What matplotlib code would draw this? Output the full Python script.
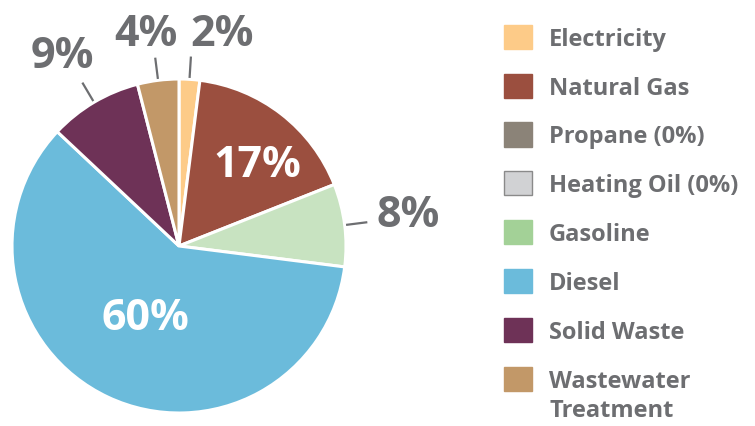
import matplotlib
matplotlib.use("Agg")
import matplotlib.pyplot as plt
import numpy as np
from matplotlib.patches import Patch

# Energy use by source (share of total, %)
categories = ["Electricity", "Natural Gas", "Propane (0%)", "Heating Oil (0%)",
              "Gasoline", "Diesel", "Solid Waste", "Wastewater\nTreatment"]
shares = [2, 17, 0, 0, 8, 60, 9, 4]
slice_colors = ["#fdcb88", "#9b4f3f", "#8b8378", "#d1d2d4",
                "#c8e3c1", "#6bbbdb", "#6e3257", "#c29868"]
legend_colors = ["#fdcb88", "#9b4f3f", "#8b8378", "#d1d2d4",
                 "#a3d197", "#6bbbdb", "#6e3257", "#c29868"]

gray = "#6d6e71"
plt.rcParams["font.family"] = ["Open Sans", "DejaVu Sans"]

fig = plt.figure(figsize=(7.55, 4.27), dpi=100)
ax = fig.add_axes([0, 0, 1, 1])

vals = [v for v in shares if v > 0]
cols = [c for v, c in zip(shares, slice_colors) if v > 0]
wedges, _ = ax.pie(vals, colors=cols, startangle=90, counterclock=False,
                   radius=1.0, wedgeprops=dict(edgecolor="white", linewidth=2.2))

# label placement: (text x, text y, inside?)
label_pos = {0: (0.26, 1.27, False), 1: (0.47, 0.49, True), 2: (1.37, 0.19, False),
             3: (-0.20, -0.43, True), 4: (-0.70, 1.14, False), 5: (-0.20, 1.27, False)}
for i, (w, v) in enumerate(zip(wedges, vals)):
    tx, ty, inside = label_pos[i]
    ax.text(tx, ty, f"{v}%", ha="center", va="center", fontsize=31,
            fontweight="bold", color="white" if inside else gray)
    if not inside:
        mid = np.deg2rad((w.theta1 + w.theta2) / 2)
        r0, r1 = 1.015, 1.13
        ax.plot([r0 * np.cos(mid), r1 * np.cos(mid)],
                [r0 * np.sin(mid), r1 * np.sin(mid)], color=gray, lw=1.6)

ax.set_aspect("auto")
ax.set_xlim(-179 / 167, 576 / 167)
ax.set_ylim(-180 / 167, 247 / 167)
ax.axis("off")

# legend: first line of each label beside the swatch, extra lines hang below
first_lines = [c.split("\n")[0] for c in categories]
extra_lines = [c.split("\n")[1:] for c in categories]
handles = [Patch(facecolor=c, edgecolor=("#8a8a8a" if c == "#d1d2d4" else c), lw=1)
           for c in legend_colors]
leg = fig.legend(handles, first_lines, loc="upper left", bbox_to_anchor=(0.655, 0.962),
                 frameon=False, fontsize=17, handlelength=1.19, handleheight=1.19,
                 handletextpad=0.72, labelspacing=0.97, borderaxespad=0)
for t in leg.get_texts():
    t.set_color(gray)
    t.set_fontweight("bold")

fig.canvas.draw()
inv = fig.transFigure.inverted()
for t, extra in zip(leg.get_texts(), extra_lines):
    if not extra:
        continue
    bb = t.get_window_extent()
    x0, y0 = inv.transform((bb.x0, bb.y0))
    fig.text(x0, y0 - 29 / 427, "\n".join(extra), ha="left", va="bottom",
             fontsize=17, fontweight="bold", color=gray)

fig.savefig("out.png", dpi=100)
